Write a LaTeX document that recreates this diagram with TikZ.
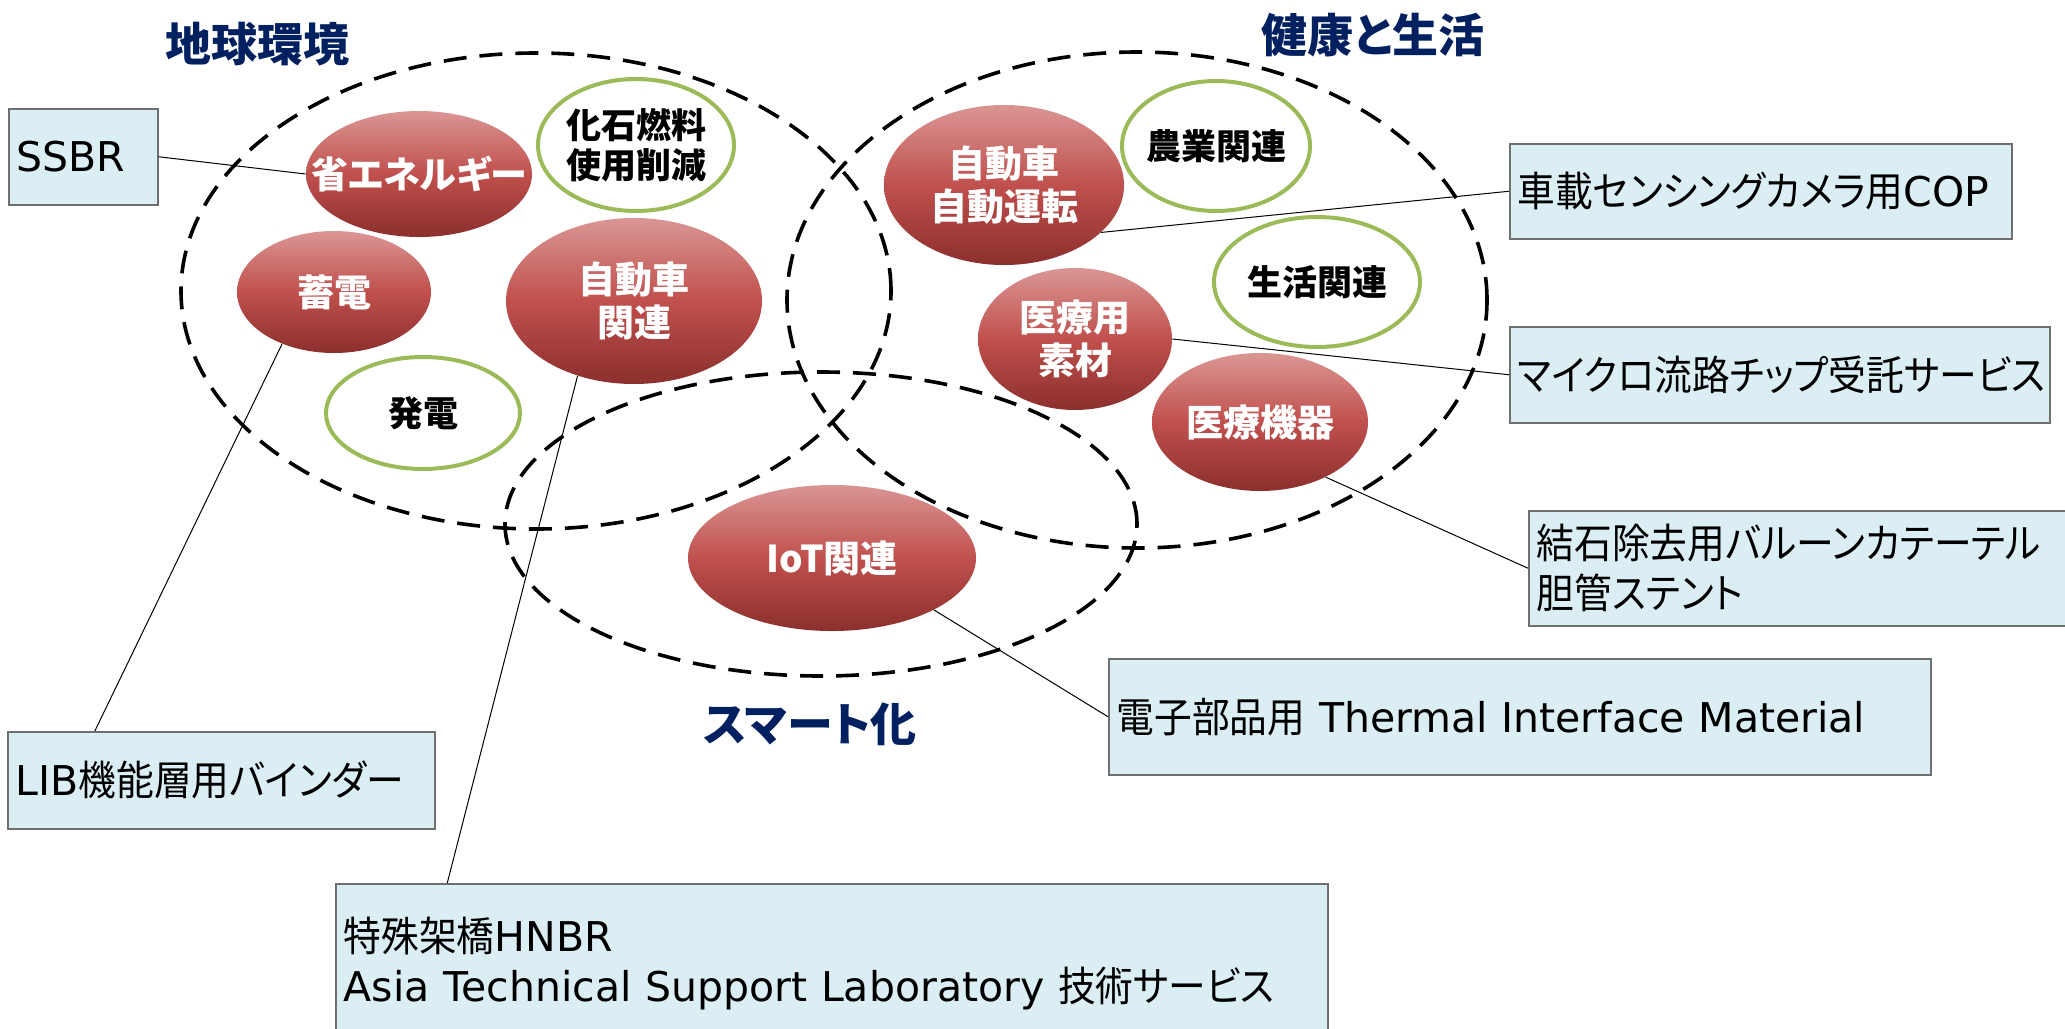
\documentclass[tikz,border=0pt]{standalone}
\usepackage{fontspec}
\setmainfont{Noto Sans CJK JP}[RawFeature=+palt]
\newfontfamily\boxcjk{Noto Sans CJK JP}[RawFeature=+palt, FakeStretch=0.92]
\newfontfamily\boxlatin{DejaVu Sans}
\newcommand\lat[1]{{\boxlatin #1}}
\usetikzlibrary{shapes.geometric, calc}
\definecolor{ballTop}{HTML}{DA9694}
\definecolor{ballMid}{HTML}{C0504D}
\definecolor{ballBot}{HTML}{8B2F2D}
\definecolor{ringGreen}{HTML}{9BBB59}
\definecolor{titleNavy}{HTML}{002060}
\definecolor{boxFill}{HTML}{DAEEF3}
\definecolor{boxEdge}{HTML}{6F6F6F}
\tikzset{
    radii/.style 2 args={minimum width=#1pt, minimum height=#2pt},
    zone/.style={ellipse, draw, line width=1.8pt, dash pattern=on 11.5pt off 6.5pt, inner sep=0pt},
    ball/.style={ellipse, top color=ballTop, bottom color=ballBot, middle color=ballMid,
        text=white, font=\bfseries\fontsize{18.5}{21.5}\selectfont, align=center,
        inner xsep=-14pt, inner ysep=0pt},
    greenring/.style={ellipse, draw=ringGreen, line width=2pt, fill=white,
        font=\bfseries\fontsize{17.5}{20}\selectfont, align=center,
        inner xsep=-14pt, inner ysep=0pt},
    heading/.style={text=titleNavy, font=\bfseries\fontsize{23}{28}\selectfont},
    infobox/.style 2 args={draw=boxEdge, line width=0.75pt, fill=boxFill, anchor=north west,
        inner xsep=4pt, inner ysep=0pt, align=left, font=\boxcjk\fontsize{20.5}{25}\selectfont,
        text width=#1pt, minimum height=#2pt},
    calloutline/.style={draw, line width=0.5pt},
}
\begin{document}
\begin{tikzpicture}[x=0.5pt, y=-0.5pt]
    \useasboundingbox (0,0) rectangle (2065,1028);
    % the three fields
    \node[zone, radii={355}{238}] (earth) at (536,291) {};
    \node[zone, radii={350}{248}] (health) at (1137,300) {};
    \node[zone, radii={316}{152}] (smart) at (821,524) {};
    \node[heading] (tEarth) at (257,44) {地球環境};
    \node[heading] (tHealth) at (1373,35) {健康と生活};
    \node[heading] (tSmart) at (810,724) {スマート化};
    % products
    \node[ball, radii={97}{63}] (shoene) at (419,174) {省エネルギー};
    \node[ball, radii={97}{61}] (chikuden) at (334,292) {蓄電};
    \node[ball, radii={128}{83}] (carrel) at (634,301) {自動車\\関連};
    \node[ball, radii={120}{80}] (autodrive) at (1004,185) {自動車\\自動運転};
    \node[ball, radii={97}{71}] (medmat) at (1075,339) {医療用\\素材};
    \node[ball, radii={108}{69}] (meddev) at (1260,422) {医療機器};
    \node[ball, radii={144}{73}] (iot) at (832,558) {IoT関連};
    \node[greenring, radii={98}{66}] (fossil) at (636,145) {化石燃料\\使用削減};
    \node[greenring, radii={97}{56}] (hatsuden) at (423,413) {発電};
    \node[greenring, radii={94}{65}] (agri) at (1216,146) {農業関連};
    \node[greenring, radii={103}{65}] (life) at (1317,282) {生活関連};
    % boxes
    \node[infobox={66.5}{48}] (ssbr) at (8,108) {\lat{SSBR}};
    \node[infobox={243}{47.5}] (cop) at (1509,143) {車載センシングカメラ用\lat{COP}};
    \node[infobox={262}{48}] (micro) at (1509,326) {マイクロ流路チップ受託サービス};
    \node[infobox={264.5}{57.5}] (stone) at (1528,510) {結石除去用バルーンカテーテル\\胆管ステント};
    \node[infobox={403}{58}] (tim) at (1108,658) {電子部品用 \lat{Thermal Interface Material}};
    \node[infobox={205.5}{48.5}] (lib) at (7,731) {\lat{LIB}機能層用バインダー};
    \node[infobox={488}{80}] (hnbr) at (335,883) {特殊架橋\lat{HNBR}\\\lat{Asia Technical Support Laboratory} 技術サービス};
    % callouts
    \draw[calloutline] (ssbr.east) -- (shoene.west);
    \draw[calloutline] (cop.west) -- (autodrive.-26);
    \draw[calloutline] (micro.west) -- (medmat.east);
    \draw[calloutline] (stone.west) -- (meddev.-40);
    \draw[calloutline] (tim.west) -- (iot.-27);
    \draw[calloutline] ($(lib.north west)!.205!(lib.north east)$) -- (chikuden.-135);
    \draw[calloutline] ($(hnbr.north west)!.113!(hnbr.north east)$) -- (carrel.-127);
\end{tikzpicture}
\end{document}
